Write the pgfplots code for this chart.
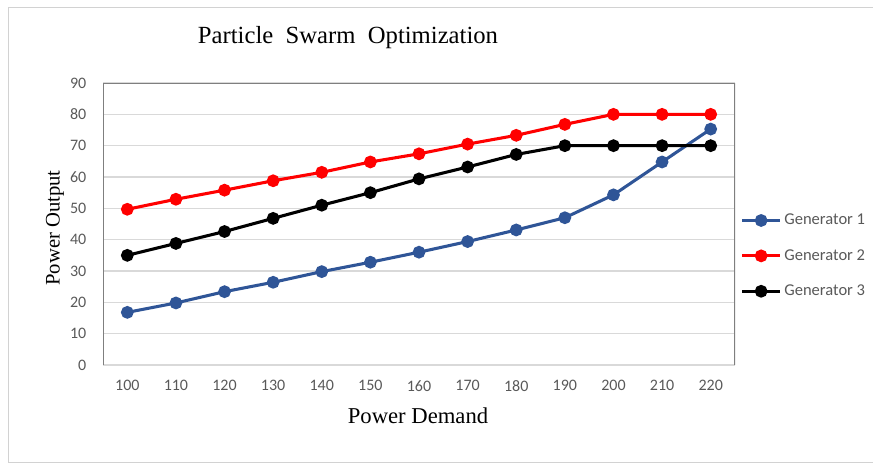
\documentclass[border=0pt]{standalone}
\usepackage{fontspec}
\setmainfont{Liberation Serif}
\newfontfamily\carlito{Carlito}
\usepackage{pgfplots}
\pgfplotsset{compat=1.18}
\definecolor{gblue}{HTML}{2F5597}
\definecolor{gridc}{HTML}{D9D9D9}
\definecolor{tickc}{HTML}{595959}
\definecolor{axc}{HTML}{7F7F7F}
\begin{document}
\begin{tikzpicture}
\path[use as bounding box] (0,0) rectangle (654.75pt,348pt);
\draw[gray!35, line width=0.6pt] (654.75pt,1.5pt) -- (6pt,1.5pt) -- (6pt,342.75pt) -- (654.75pt,342.75pt);
\begin{axis}[
  at={(77.25pt,74.25pt)}, anchor=south west,
  scale only axis, width=474pt, height=211.5pt,
  xmin=-0.5, xmax=12.5, ymin=0, ymax=90,
  xtick={0,...,12},
  xticklabels={100,110,120,130,140,150,160,170,180,190,200,210,220},
  ytick={0,10,...,90},
  major tick length=0pt,
  axis line style={draw=none},
  ymajorgrids, grid style={gridc, line width=0.8pt},
  /pgf/number format/assume math mode=true,
  ticklabel style={font=\carlito\fontsize{12}{14}\selectfont, text=tickc},
  yticklabel style={xshift=-9pt},
  xticklabel style={yshift=-8pt},
  every axis plot/.append style={line width=2.3pt, mark=*, mark size=3.6pt},
  legend style={draw=none, fill=none, at={(axis description cs:1,0.387)}, anchor=west, xshift=4pt,
    font=\carlito\fontsize{12.4}{14}\selectfont, text=tickc, row sep=13pt, inner sep=0pt,
    nodes={inner xsep=2pt}},
  legend cell align=left,
  legend image code/.code={\draw[#1, mark=none] (0pt,0pt) -- (28.5pt,0pt);
     \draw[#1, mark repeat=2, mark phase=2] plot coordinates {(0pt,0pt) (14.25pt,0pt) (28.5pt,0pt)};},
]
\addplot[color=gblue] coordinates {(0,16.8) (1,19.8) (2,23.4) (3,26.4) (4,29.8) (5,32.8) (6,36.0) (7,39.4) (8,43.1) (9,47.0) (10,54.3) (11,64.8) (12,75.3)};
\addlegendentry{Generator 1}
\addplot[color=red] coordinates {(0,49.7) (1,52.9) (2,55.8) (3,58.8) (4,61.5) (5,64.8) (6,67.4) (7,70.5) (8,73.3) (9,76.8) (10,80) (11,80) (12,80)};
\addlegendentry{Generator 2}
\addplot[color=black] coordinates {(0,35.0) (1,38.8) (2,42.6) (3,46.8) (4,51.0) (5,55.0) (6,59.4) (7,63.2) (8,67.2) (9,70) (10,70) (11,70) (12,70)};
\addlegendentry{Generator 3}
\draw[axc, line width=0.9pt] (rel axis cs:0,0) -- (rel axis cs:0,1) -- (rel axis cs:1,1) -- (rel axis cs:1,0);
\end{axis}
\node[font=\fontsize{18.5}{22}\selectfont] at (261pt,319.5pt) {Particle\ \ Swarm\ \ Optimization};
\node[font=\fontsize{17}{20}\selectfont] at (313.5pt,36pt) {Power Demand};
\node[font=\fontsize{15.5}{18}\selectfont, rotate=90] at (41.25pt,177pt) {Power Output};
\end{tikzpicture}
\end{document}
